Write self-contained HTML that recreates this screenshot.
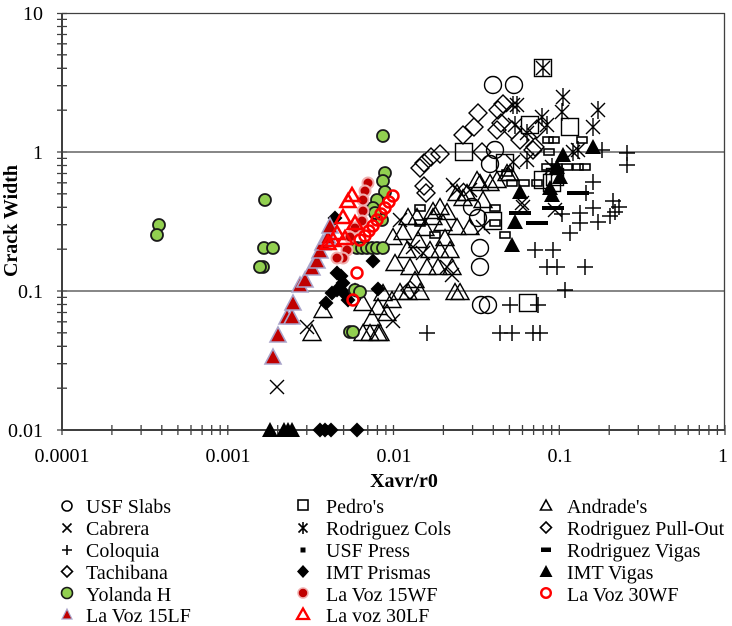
<!DOCTYPE html>
<html><head><meta charset="utf-8"><style>
html,body{margin:0;padding:0;background:#fff;}
svg{display:block;font-family:"Liberation Serif","DejaVu Serif",serif;}
text{font-family:"Liberation Serif","DejaVu Serif",serif;}
</style></head><body>
<svg width="732" height="626" viewBox="0 0 732 626" xmlns="http://www.w3.org/2000/svg" font-family="Liberation Serif, serif">
<defs>
<circle id="oc" r="8.5" fill="none" stroke="#000" stroke-width="1.4"/>
<rect id="sq" x="-8.5" y="-8.5" width="17" height="17" fill="none" stroke="#000" stroke-width="1.4"/>
<polygon id="tr" points="0,-8.5 9,7.5 -9,7.5" fill="none" stroke="#000" stroke-width="1.4"/>
<polygon id="di" points="0,-9 9,0 0,9 -9,0" fill="none" stroke="#000" stroke-width="1.4"/>
<path id="xx" d="M-7,-7L7,7M7,-7L-7,7" stroke="#000" stroke-width="1.4" fill="none"/>
<path id="pl" d="M-8,0H8M0,-8V8" stroke="#000" stroke-width="1.5" fill="none"/>
<path id="as" d="M-7,-7L7,7M7,-7L-7,7M0,-9V9" stroke="#000" stroke-width="1.4" fill="none"/>
<rect id="up" x="-5" y="-3" width="10" height="6" fill="none" stroke="#000" stroke-width="1.6"/>
<rect id="rv" x="-11" y="-2" width="22" height="4" fill="#000"/>
<polygon id="fd" points="0,-7.5 7.5,0 0,7.5 -7.5,0" fill="#000"/>
<polygon id="ft" points="0,-8 8,7 -8,7" fill="#000"/>
<circle id="gy" r="6" fill="#92d050" stroke="#1a1a1a" stroke-width="1.8"/>
<circle id="rc" r="5.5" fill="#c00000" stroke="#f0b0b0" stroke-width="2"/>
<circle id="ro" r="5.5" fill="none" stroke="#ff0000" stroke-width="2.5"/>
<polygon id="rt" points="0,-8 8,7 -8,7" fill="#c00000" stroke="#a9a3c9" stroke-width="1.6"/>
<polygon id="rot" points="0,-7 7.5,6 -7.5,6" fill="none" stroke="#ff0000" stroke-width="2.5"/>
</defs>

<g stroke="#404040" stroke-width="1.3" fill="none">
<path d="M62,13.5H725M62,152H725M62,291H725"/>
<path d="M724.5,13V430"/>
</g>

<g stroke="#404040" stroke-width="2" fill="none">
<path d="M62,13V431M61,430H725"/>
</g>
<g stroke="#404040" stroke-width="1.3" fill="none">
<path d="M57,430H67M57,388.2H67M57,363.7H67M57,346.3H67M57,332.8H67M57,321.8H67M57,312.5H67M57,304.5H67M57,297.4H67
M57,291H67M57,249.2H67M57,224.7H67M57,207.3H67M57,193.8H67M57,182.8H67M57,173.5H67M57,165.5H67M57,158.4H67
M57,152H67M57,110.2H67M57,85.7H67M57,68.3H67M57,54.8H67M57,43.8H67M57,34.5H67M57,26.5H67M57,19.4H67M57,13.5H67"/>
<path d="M62,425V435M111.9,425V435M141.1,425V435M161.8,425V435M177.9,425V435M191,425V435M202.1,425V435M211.7,425V435M220.2,425V435
M227.8,425V435M277.7,425V435M306.8,425V435M327.5,425V435M343.6,425V435M356.7,425V435M367.8,425V435M377.4,425V435M385.9,425V435
M393.5,425V435M443.4,425V435M472.6,425V435M493.3,425V435M509.4,425V435M522.5,425V435M533.6,425V435M543.2,425V435M551.7,425V435
M559.3,425V435M609.2,425V435M638.3,425V435M659,425V435M675.1,425V435M688.2,425V435M699.3,425V435M708.9,425V435M717.4,425V435M725,425V435"/>
</g>

<g font-size="20" fill="#000" text-anchor="end" font-family="Liberation Serif, serif">
<text x="43" y="20">10</text>
<text x="43" y="159">1</text>
<text x="43" y="298">0.1</text>
<text x="43" y="437">0.01</text>
</g>
<g font-size="20" fill="#000" text-anchor="middle" font-family="Liberation Serif, serif">
<text x="62" y="462">0.0001</text>
<text x="228" y="462">0.001</text>
<text x="394" y="462">0.01</text>
<text x="560" y="462">0.1</text>
<text x="723" y="462">1</text>
</g>
<text x="404" y="487" font-size="20" font-weight="bold" text-anchor="middle" font-family="Liberation Serif, serif">Xavr/r0</text>
<text transform="translate(17,221) rotate(-90)" font-size="20" font-weight="bold" text-anchor="middle" font-family="Liberation Serif, serif">Crack Width</text>

<g>
<use href="#oc" x="493" y="85"/><use href="#oc" x="514" y="85"/><use href="#oc" x="495" y="150"/><use href="#oc" x="490" y="164"/>
<use href="#oc" x="480" y="248"/><use href="#oc" x="480" y="267"/><use href="#oc" x="481" y="305"/><use href="#oc" x="488" y="305"/>
<use href="#oc" x="472" y="207"/><use href="#oc" x="478" y="218"/>
</g>
<g>
<use href="#sq" x="543" y="68"/><use href="#sq" x="464" y="152"/><use href="#sq" x="505" y="163"/><use href="#sq" x="570" y="127"/>
<use href="#sq" x="530" y="125"/><use href="#sq" x="543" y="180"/><use href="#sq" x="528" y="303"/><use href="#sq" x="493" y="221"/>
<use href="#sq" x="552" y="183"/><use href="#sq" x="555" y="177"/>
</g>
<g>
<use href="#tr" x="312" y="333"/><use href="#tr" x="323" y="310"/><use href="#tr" x="363" y="333"/><use href="#tr" x="370" y="333"/>
<use href="#tr" x="378" y="333"/><use href="#tr" x="363" y="303"/><use href="#tr" x="378" y="307"/><use href="#tr" x="395" y="263"/>
<use href="#tr" x="407" y="250"/><use href="#tr" x="393" y="237"/><use href="#tr" x="408" y="217"/><use href="#tr" x="417" y="217"/>
<use href="#tr" x="430" y="250"/><use href="#tr" x="440" y="250"/><use href="#tr" x="450" y="250"/><use href="#tr" x="410" y="267"/>
<use href="#tr" x="427" y="267"/><use href="#tr" x="438" y="267"/><use href="#tr" x="452" y="267"/><use href="#tr" x="400" y="292"/>
<use href="#tr" x="408" y="292"/><use href="#tr" x="420" y="292"/><use href="#tr" x="460" y="292"/><use href="#tr" x="383" y="293"/>
<use href="#tr" x="387" y="313"/><use href="#tr" x="380" y="333"/><use href="#tr" x="433" y="217"/><use href="#tr" x="443" y="223"/>
<use href="#tr" x="457" y="227"/><use href="#tr" x="470" y="227"/><use href="#tr" x="480" y="183"/><use href="#tr" x="490" y="183"/>
<use href="#tr" x="497" y="180"/><use href="#tr" x="507" y="173"/><use href="#tr" x="457" y="193"/><use href="#tr" x="467" y="193"/>
<use href="#tr" x="477" y="180"/><use href="#tr" x="463" y="198"/><use href="#tr" x="440" y="207"/><use href="#tr" x="433" y="211"/>
<use href="#tr" x="483" y="200"/><use href="#tr" x="510" y="173"/><use href="#tr" x="455" y="292"/><use href="#tr" x="447" y="212"/>
<use href="#tr" x="403" y="232"/><use href="#tr" x="418" y="240"/><use href="#tr" x="425" y="228"/><use href="#tr" x="372" y="318"/>
<use href="#tr" x="392" y="300"/><use href="#tr" x="415" y="280"/><use href="#tr" x="445" y="238"/>
</g>
<g>
<use href="#di" x="478" y="113"/><use href="#di" x="474" y="127"/><use href="#di" x="463" y="135"/><use href="#di" x="503" y="104"/>
<use href="#di" x="498" y="110"/><use href="#di" x="501" y="123"/><use href="#di" x="537" y="129"/><use href="#di" x="535" y="147"/>
<use href="#di" x="482" y="152"/><use href="#di" x="440" y="154"/><use href="#di" x="431" y="157"/><use href="#di" x="424" y="163"/>
<use href="#di" x="420" y="168"/><use href="#di" x="424" y="186"/><use href="#di" x="426" y="193"/><use href="#di" x="410" y="290"/>
<use href="#di" x="497" y="130"/><use href="#di" x="512" y="130"/><use href="#di" x="533" y="150"/><use href="#di" x="520" y="140"/>
</g>
<g>
<use href="#as" x="543" y="68"/><use href="#as" x="563" y="97"/><use href="#as" x="562" y="112"/><use href="#as" x="598" y="110"/>
<use href="#as" x="593" y="127"/><use href="#as" x="542" y="117"/><use href="#as" x="547" y="125"/><use href="#as" x="517" y="105"/>
<use href="#as" x="515" y="125"/><use href="#as" x="573" y="152"/><use href="#as" x="578" y="150"/><use href="#as" x="552" y="167"/>
<use href="#as" x="527" y="160"/><use href="#as" x="513" y="105"/><use href="#as" x="527" y="133"/>
</g>
<g>
<use href="#xx" x="277" y="387"/><use href="#xx" x="307" y="327"/><use href="#xx" x="393" y="321"/><use href="#xx" x="423" y="253"/>
<use href="#xx" x="447" y="267"/><use href="#xx" x="400" y="220"/><use href="#xx" x="457" y="190"/><use href="#xx" x="483" y="227"/>
<use href="#xx" x="555" y="210"/><use href="#xx" x="523" y="207"/><use href="#xx" x="453" y="185"/><use href="#xx" x="522" y="203"/>
<use href="#xx" x="513" y="162"/><use href="#xx" x="413" y="247"/><use href="#xx" x="452" y="275"/><use href="#xx" x="470" y="190"/>
</g>
<g>
<use href="#pl" x="427" y="333"/><use href="#pl" x="500" y="333"/><use href="#pl" x="512" y="333"/><use href="#pl" x="533" y="333"/>
<use href="#pl" x="540" y="333"/><use href="#pl" x="510" y="305"/><use href="#pl" x="538" y="305"/><use href="#pl" x="565" y="290"/>
<use href="#pl" x="535" y="250"/><use href="#pl" x="553" y="250"/><use href="#pl" x="547" y="267"/><use href="#pl" x="557" y="267"/>
<use href="#pl" x="585" y="267"/><use href="#pl" x="570" y="233"/><use href="#pl" x="580" y="223"/><use href="#pl" x="598" y="222"/>
<use href="#pl" x="562" y="214"/><use href="#pl" x="593" y="208"/><use href="#pl" x="613" y="201"/><use href="#pl" x="615" y="212"/>
<use href="#pl" x="610" y="216"/><use href="#pl" x="593" y="182"/><use href="#pl" x="586" y="193"/><use href="#pl" x="627" y="165"/>
<use href="#pl" x="627" y="153"/><use href="#pl" x="602" y="150"/><use href="#pl" x="619" y="207"/><use href="#pl" x="580" y="213"/>
</g>
<g>
<use href="#up" x="548" y="140"/><use href="#up" x="554" y="140"/><use href="#up" x="582" y="140"/><use href="#up" x="549" y="152"/>
<use href="#up" x="547" y="167"/><use href="#up" x="557" y="167"/><use href="#up" x="567" y="167"/><use href="#up" x="578" y="167"/>
<use href="#up" x="585" y="167"/><use href="#up" x="512" y="183"/><use href="#up" x="537" y="183"/><use href="#up" x="420" y="208"/>
<use href="#up" x="420" y="223"/><use href="#up" x="495" y="208"/><use href="#up" x="495" y="223"/><use href="#up" x="505" y="235"/>
<use href="#up" x="435" y="235"/><use href="#up" x="524" y="183"/><use href="#up" x="507" y="173"/>
</g>
<g>
<use href="#rv" x="537" y="223"/><use href="#rv" x="578" y="193"/><use href="#rv" x="553" y="208"/><use href="#rv" x="520" y="213"/>
</g>
<g>
<use href="#fd" x="335" y="218"/><use href="#fd" x="373" y="261"/><use href="#fd" x="337" y="273"/><use href="#fd" x="341" y="276"/>
<use href="#fd" x="343" y="283"/><use href="#fd" x="337" y="290"/><use href="#fd" x="332" y="293"/><use href="#fd" x="344" y="293"/>
<use href="#fd" x="378" y="289"/><use href="#fd" x="326" y="303"/><use href="#fd" x="348" y="300"/><use href="#fd" x="355" y="290"/>
<use href="#fd" x="320" y="430"/><use href="#fd" x="325" y="430"/><use href="#fd" x="331" y="430"/><use href="#fd" x="357" y="430"/>
</g>
<g>
<use href="#ft" x="593" y="147"/><use href="#ft" x="563" y="155"/><use href="#ft" x="557" y="167"/><use href="#ft" x="560" y="177"/>
<use href="#ft" x="550" y="188"/><use href="#ft" x="552" y="195"/><use href="#ft" x="520" y="192"/><use href="#ft" x="515" y="222"/>
<use href="#ft" x="512" y="245"/><use href="#ft" x="270" y="430"/><use href="#ft" x="284" y="430"/><use href="#ft" x="288" y="430"/>
<use href="#ft" x="292" y="430"/>
</g>
<g>
<use href="#gy" x="159" y="225"/><use href="#gy" x="157" y="235"/><use href="#gy" x="265" y="200"/><use href="#gy" x="264" y="248"/>
<use href="#gy" x="273" y="248"/><use href="#gy" x="263" y="267"/><use href="#gy" x="260" y="267"/><use href="#gy" x="383" y="136"/>
<use href="#gy" x="385" y="173"/><use href="#gy" x="383" y="181"/><use href="#gy" x="385" y="192"/><use href="#gy" x="377" y="200"/>
<use href="#gy" x="373" y="208"/><use href="#gy" x="382" y="220"/><use href="#gy" x="375" y="213"/><use href="#gy" x="357" y="248"/>
<use href="#gy" x="362" y="248"/><use href="#gy" x="367" y="248"/><use href="#gy" x="372" y="248"/><use href="#gy" x="377" y="248"/>
<use href="#gy" x="383" y="248"/><use href="#gy" x="355" y="290"/><use href="#gy" x="360" y="292"/><use href="#gy" x="350" y="332"/>
<use href="#gy" x="353" y="332"/>
</g>
<g>
<use href="#rt" x="273" y="357"/><use href="#rt" x="278" y="335"/><use href="#rt" x="287" y="317"/><use href="#rt" x="292" y="317"/>
<use href="#rt" x="293" y="303"/><use href="#rt" x="300" y="285"/><use href="#rt" x="305" y="280"/><use href="#rt" x="312" y="268"/>
<use href="#rt" x="317" y="261"/><use href="#rt" x="320" y="251"/><use href="#rt" x="323" y="243"/><use href="#rt" x="328" y="237"/>
<use href="#rt" x="330" y="226"/>
</g>
<g>
<use href="#rc" x="368" y="183"/><use href="#rc" x="365" y="191"/><use href="#rc" x="363" y="200"/><use href="#rc" x="363" y="211"/>
<use href="#rc" x="362" y="221"/><use href="#rc" x="355" y="228"/><use href="#rc" x="350" y="237"/><use href="#rc" x="347" y="250"/>
<use href="#rc" x="343" y="258"/><use href="#rc" x="337" y="258"/>
</g>
<g>
<use href="#rot" x="352" y="195"/><use href="#rot" x="348" y="201"/><use href="#rot" x="343" y="217"/><use href="#rot" x="355" y="223"/>
<use href="#rot" x="337" y="233"/><use href="#rot" x="333" y="240"/><use href="#rot" x="328" y="243"/><use href="#rot" x="345" y="238"/>
</g>
<g>
<use href="#ro" x="393" y="196"/><use href="#ro" x="389" y="202"/><use href="#ro" x="385" y="208"/><use href="#ro" x="381" y="214"/>
<use href="#ro" x="377" y="220"/><use href="#ro" x="373" y="226"/><use href="#ro" x="369" y="231"/><use href="#ro" x="365" y="236"/>
<use href="#ro" x="360" y="240"/><use href="#ro" x="357" y="273"/><use href="#ro" x="353" y="300"/>
</g>

<g font-size="20" fill="#000" font-family="Liberation Serif, serif">
<circle cx="67" cy="506" r="5" fill="none" stroke="#000" stroke-width="1.6"/>
<text x="86" y="513">USF Slabs</text>
<path d="M62.5,523.5L71.5,532.5M71.5,523.5L62.5,532.5" stroke="#000" stroke-width="1.6"/>
<text x="86" y="535">Cabrera</text>
<path d="M62,550H72M67,545V555" stroke="#000" stroke-width="1.6"/>
<text x="86" y="557">Coloquia</text>
<polygon points="67,566 72.5,571.5 67,577 61.5,571.5" fill="none" stroke="#000" stroke-width="1.6"/>
<text x="86" y="579">Tachibana</text>
<circle cx="67" cy="593" r="5.5" fill="#92d050" stroke="#1a1a1a" stroke-width="1.6"/>
<text x="86" y="601">Yolanda H</text>
<polygon points="67,609 72,619 62,619" fill="#c00000" stroke="#a9a3c9" stroke-width="1.2"/>
<text x="86" y="622">La Voz 15LF</text>

<rect x="298" y="500" width="10" height="10" fill="none" stroke="#000" stroke-width="1.6"/>
<text x="326" y="513">Pedro's</text>
<path d="M298.5,523.5L307.5,532.5M307.5,523.5L298.5,532.5M303,522V534" stroke="#000" stroke-width="1.6"/>
<text x="326" y="535">Rodriguez Cols</text>
<rect x="300.5" y="547.5" width="5" height="5" fill="#000"/>
<text x="326" y="557">USF Press</text>
<polygon points="303,565 309,571.5 303,578 297,571.5" fill="#000"/>
<text x="326" y="579">IMT Prismas</text>
<circle cx="303" cy="593" r="5" fill="#c00000" stroke="#f0b0b0" stroke-width="1.5"/>
<text x="326" y="601">La Voz 15WF</text>
<polygon points="303,608.5 309,619 297,619" fill="none" stroke="#ff0000" stroke-width="2.3"/>
<text x="326" y="622">La voz 30LF</text>

<polygon points="546,500 551.5,510 540.5,510" fill="none" stroke="#000" stroke-width="1.6"/>
<text x="567" y="513">Andrade's</text>
<polygon points="546,522 551.5,527.5 546,533 540.5,527.5" fill="none" stroke="#000" stroke-width="1.6"/>
<text x="567" y="535">Rodriguez Pull-Out</text>
<rect x="541" y="547.5" width="10" height="4.5" fill="#000"/>
<text x="567" y="557">Rodriguez Vigas</text>
<polygon points="546,565 552.5,577 539.5,577" fill="#000"/>
<text x="567" y="579">IMT Vigas</text>
<circle cx="546" cy="593" r="4.8" fill="none" stroke="#ff0000" stroke-width="2.4"/>
<text x="567" y="601">La Voz 30WF</text>
</g>
</svg>
</body></html>
